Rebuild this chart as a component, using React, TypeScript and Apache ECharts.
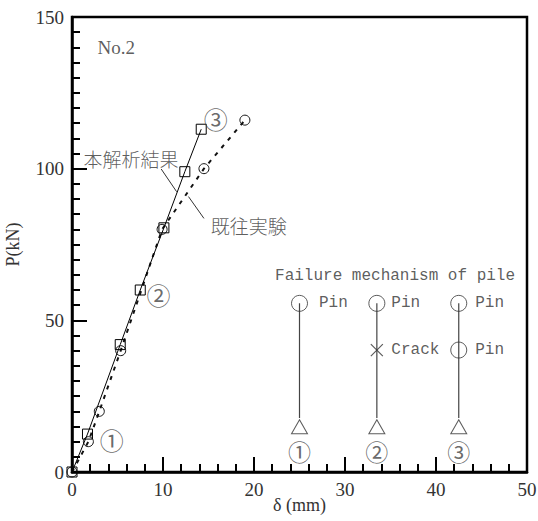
import React, { useEffect, useRef } from "react";
import * as echarts from "echarts";

// Experimental (既往実験) load-displacement
const expDelta = [0, 1.8, 3.0, 5.35, 9.9, 14.5, 19.0];
const expLoad = [0, 10, 20, 40, 80, 100, 116];
// Analysis (本解析結果)
const anaDelta = [0, 1.7, 5.3, 7.5, 10.1, 12.4, 14.2];
const anaLoad = [0, 12.5, 42, 60, 80.5, 99, 113];

// Failure mechanism diagram (columns ①②③)
const mechX = [25, 33.5, 42.5];
const mechTopP = 55.6;
const mechBaseP = 14.9;
const mechLineBottomP = 17.8;
const mechNumP = 6.9;
const mechNums = ["①", "②", "③"];
const pinPoints: [number, number][] = [
  [25, 55.6],
  [33.5, 55.6],
  [42.5, 55.6],
  [42.5, 40.2],
];
const pinLabelGap = [11, 6, 8, 8];
const crackPoints: [number, number][] = [[33.5, 40.2]];

// Annotations on the curves
const stageMarks: { x: number; y: number; t: string }[] = [
  { x: 4.36, y: 10.8, t: "①" },
  { x: 9.5, y: 58.4, t: "②" },
  { x: 15.8, y: 116.4, t: "③" },
];

export default function App() {
  const ref = useRef<HTMLDivElement>(null);
  useEffect(() => {
    if (!ref.current) return;
    const chart = echarts.init(ref.current, null, { renderer: "svg" });
    const serif = "Liberation Serif";
    const mono = "Liberation Mono";
    const cjk = "Noto Sans CJK JP";
    const ink = "#222";

    const textSeries = (
      items: { x: number; y: number; t: string }[],
      opts: any
    ) => ({
      type: "scatter",
      symbol: "circle",
      symbolSize: 1,
      itemStyle: { color: "transparent" },
      silent: true,
      z: 5,
      data: items.map((d) => ({ value: [d.x, d.y], name: d.t })),
      label: { show: true, formatter: "{b}", color: ink, ...opts },
    });

    const seg = (a: [number, number], b: [number, number], w = 1, color = "#333") => ({
      type: "line",
      data: [a, b],
      symbol: "none",
      silent: true,
      lineStyle: { color, width: w },
      z: 3,
    });

    const series: any[] = [
      {
        type: "line",
        data: expDelta.map((d, i) => [d, expLoad[i]]),
        symbol: "circle",
        symbolSize: 10,
        itemStyle: { color: "transparent", borderColor: "#111", borderWidth: 1 },
        lineStyle: { color: "#111", width: 2, type: [4, 6] },
        z: 4,
      },
      {
        type: "line",
        data: anaDelta.map((d, i) => [d, anaLoad[i]]),
        symbol: "rect",
        symbolSize: 10,
        itemStyle: { color: "transparent", borderColor: "#000", borderWidth: 1 },
        lineStyle: { color: "#000", width: 1 },
        z: 4,
      },
      // leader lines
      seg([9.8, 99.9], [11.5, 92.4]),
      seg([12.8, 90.8], [14.5, 83.6]),
      // mechanism vertical lines
      ...mechX.map((x) => seg([x, mechTopP], [x, mechLineBottomP], 1.2, "#444")),
      {
        type: "scatter",
        data: pinPoints.map((p, i) => ({
          value: p,
          name: "Pin",
          label: { distance: pinLabelGap[i] },
        })),
        symbol: "circle",
        symbolSize: 16,
        itemStyle: { color: "transparent", borderColor: "#333", borderWidth: 1 },
        label: {
          show: true,
          position: "right",
          distance: 8,
          formatter: "{b}",
          fontFamily: mono,
          fontSize: 16,
          color: "#333",
        },
        z: 5,
      },
      {
        type: "scatter",
        data: crackPoints.map((p) => ({ value: p, name: "Crack" })),
        symbol: "path://M0,0L10,10M10,0L0,10",
        symbolSize: 12,
        itemStyle: { color: "none", borderColor: "#333", borderWidth: 1.2 },
        label: {
          show: true,
          position: "right",
          distance: 6,
          formatter: "{b}",
          fontFamily: mono,
          fontSize: 16,
          color: "#333",
        },
        z: 5,
      },
      {
        type: "scatter",
        data: mechX.map((x) => [x, mechBaseP]),
        symbol: "triangle",
        symbolSize: [16, 14],
        itemStyle: { color: "transparent", borderColor: "#333", borderWidth: 1 },
        z: 5,
      },
      textSeries(
        mechX.map((x, i) => ({ x, y: mechNumP, t: mechNums[i] })),
        { position: "inside", fontFamily: cjk, fontSize: 23, color: "#444" }
      ),
      textSeries(stageMarks, {
        position: "inside",
        fontFamily: cjk,
        fontSize: 24,
        color: "#444",
      }),
      textSeries([{ x: 35.5, y: 64.6, t: "Failure mechanism of pile" }], {
        position: "inside",
        fontFamily: mono,
        fontSize: 16,
        color: "#333",
      }),
      textSeries([{ x: 2.75, y: 140, t: "No.2" }], {
        position: "right",
        distance: 0,
        fontFamily: serif,
        fontSize: 19,
        color: "#333",
      }),
      textSeries([{ x: 1.2, y: 103.5, t: "本解析結果" }], {
        position: "right",
        distance: 0,
        fontFamily: cjk,
        fontSize: 19,
        fontWeight: 300,
        color: "#333",
      }),
      textSeries([{ x: 15.2, y: 81.4, t: "既往実験" }], {
        position: "right",
        distance: 0,
        fontFamily: cjk,
        fontSize: 19,
        fontWeight: 300,
        color: "#333",
      }),
    ];

    const axisCommon = {
      type: "value",
      axisLine: { show: true, lineStyle: { color: "#000", width: 2.5 } },
      axisTick: { show: true, inside: true, length: 15, lineStyle: { color: "#000", width: 2 } },
      minorTick: { show: true, length: 8, lineStyle: { color: "#000", width: 2 } },
      splitLine: { show: false },
      minorSplitLine: { show: false },
      axisLabel: { fontFamily: serif, fontSize: 19, color: "#333", margin: 8 },
      nameTextStyle: { fontFamily: serif, fontSize: 18, color: "#333" },
      nameLocation: "middle",
      nameMoveOverlap: false,
    };

    chart.setOption({
      animation: false,
      grid: {
        left: 72,
        right: 11,
        top: 17,
        bottom: 49,
        show: true,
        borderColor: "#000",
        borderWidth: 2.5,
        containLabel: false,
        outerBoundsMode: "none",
      },
      xAxis: {
        ...axisCommon,
        min: 0,
        max: 50,
        interval: 10,
        minorTick: { ...axisCommon.minorTick, splitNumber: 5 },
        name: "δ (mm)",
        nameGap: 24,
      },
      yAxis: {
        ...axisCommon,
        min: 0,
        max: 150,
        interval: 50,
        minorTick: { ...axisCommon.minorTick, splitNumber: 10 },
        name: "P(kN)",
        nameGap: 50,
      },
      series,
    });
    return () => chart.dispose();
  }, []);
  return (
    <div
      ref={ref}
      style={{ position: "fixed", left: 0, top: 0, width: 538, height: 521, background: "#fff" }}
    />
  );
}
